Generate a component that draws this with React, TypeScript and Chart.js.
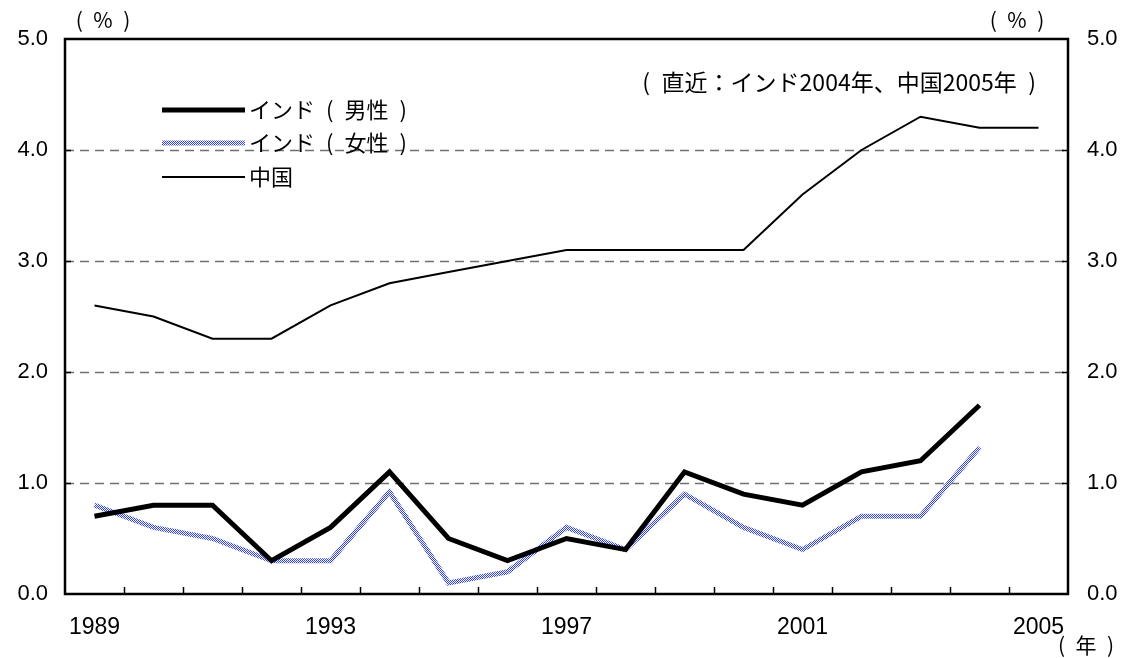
import React, { useEffect, useRef } from 'react';
import { Chart, registerables } from 'chart.js';
Chart.register(...registerables);

const years = ['1989', '1990', '1991', '1992', '1993', '1994', '1995', '1996', '1997', '1998', '1999', '2000', '2001', '2002', '2003', '2004', '2005'];
const indiaMale = [0.7, 0.8, 0.8, 0.3, 0.6, 1.1, 0.5, 0.3, 0.5, 0.4, 1.1, 0.9, 0.8, 1.1, 1.2, 1.7, null];
const indiaFemale = [0.8, 0.6, 0.5, 0.3, 0.3, 0.92, 0.1, 0.2, 0.6, 0.4, 0.9, 0.6, 0.4, 0.7, 0.7, 1.32, null];
const china = [2.6, 2.5, 2.3, 2.3, 2.6, 2.8, 2.9, 3.0, 3.1, 3.1, 3.1, 3.1, 3.6, 4.0, 4.3, 4.2, 4.2];
const seriesNames = ['インド\u2002(\u2002男性\u2002)', 'インド\u2002(\u2002女性\u2002)', '中国'];
const gridValues = [1, 2, 3, 4];
const yMin = 0;
const yMax = 5;
const xLabelEvery = 4;
const unitLabel = '(\u2002%\u2002)';
const yearLabel = '(\u2002年\u2002)';
const noteLabel = '(\u2002直近：インド2004年、中国2005年\u2002)';

const CJK = '"Noto Sans CJK JP", "Noto Sans", sans-serif';
const NUM = '"Liberation Sans", Arial, sans-serif';

function makePattern(): CanvasPattern | string {
  const c = document.createElement('canvas');
  c.width = 2;
  c.height = 2;
  const g = c.getContext('2d');
  if (!g) return '#8890f0';
  g.fillStyle = '#ffffff';
  g.fillRect(0, 0, 2, 2);
  g.fillStyle = '#3040ff';
  g.fillRect(0, 0, 1, 1);
  g.fillRect(1, 1, 1, 1);
  return g.createPattern(c, 'repeat') || '#8890f0';
}

export default function App() {
  const ref = useRef<HTMLCanvasElement | null>(null);
  useEffect(() => {
    document.body.style.margin = '0';
    const canvas = ref.current;
    if (!canvas) return;
    const pattern = makePattern();
    const styles = [
      { color: '#000000', width: 5 },
      { color: pattern, width: 5 },
      { color: '#000000', width: 2 },
    ];

    const decor = {
      id: 'decor',
      beforeDatasetsDraw(chart: any) {
        const ctx = chart.ctx;
        const a = chart.chartArea;
        const y = chart.scales.y;
        ctx.save();
        ctx.strokeStyle = '#707070';
        ctx.lineWidth = 1.5;
        ctx.setLineDash([9, 6]);
        gridValues.forEach((v) => {
          const py = Math.round(y.getPixelForValue(v)) + 0.5;
          ctx.beginPath();
          ctx.moveTo(a.left, py);
          ctx.lineTo(a.right, py);
          ctx.stroke();
        });
        ctx.restore();
      },
      afterDraw(chart: any) {
        const ctx = chart.ctx;
        const a = chart.chartArea;
        const x = chart.scales.x;
        const y = chart.scales.y;
        ctx.save();
        // ticks inward
        ctx.strokeStyle = '#000';
        ctx.lineWidth = 1.5;
        for (let i = 1; i < years.length; i++) {
          const px = Math.round((x.getPixelForValue(i - 1) + x.getPixelForValue(i)) / 2) + 0.5;
          ctx.beginPath();
          ctx.moveTo(px, a.bottom);
          ctx.lineTo(px, a.bottom - 7);
          ctx.stroke();
        }
        gridValues.forEach((v) => {
          const py = Math.round(y.getPixelForValue(v)) + 0.5;
          ctx.beginPath();
          ctx.moveTo(a.left, py);
          ctx.lineTo(a.left + 6, py);
          ctx.moveTo(a.right - 6, py);
          ctx.lineTo(a.right, py);
          ctx.stroke();
        });
        // frame
        ctx.lineWidth = 2.5;
        ctx.strokeRect(a.left, a.top, a.right - a.left, a.bottom - a.top);
        // legend
        const rows = [110, 143, 177];
        seriesNames.forEach((name, i) => {
          ctx.strokeStyle = styles[i].color as any;
          ctx.lineWidth = styles[i].width;
          ctx.beginPath();
          ctx.moveTo(162, rows[i]);
          ctx.lineTo(245, rows[i]);
          ctx.stroke();
          ctx.fillStyle = '#000';
          ctx.font = '22px ' + CJK;
          ctx.textAlign = 'left';
          ctx.textBaseline = 'middle';
          ctx.fillText(name, 249, rows[i]);
        });
        // annotations
        ctx.fillStyle = '#000';
        ctx.font = '21px ' + CJK;
        ctx.textAlign = 'center';
        ctx.textBaseline = 'middle';
        ctx.fillText(unitLabel, 103, 20);
        ctx.fillText(unitLabel, 1017, 20);
        ctx.fillText(yearLabel, 1086, 645);
        ctx.font = '23px ' + CJK;
        ctx.textAlign = 'right';
        ctx.fillText(noteLabel, 1036, 82);
        ctx.restore();
      },
    };

    const yTickOpts = (pad: number) => ({
      stepSize: 1,
      padding: pad,
      color: '#000',
      font: { family: NUM, size: 22 },
      callback: (v: any) => Number(v).toFixed(1),
    });

    const chart = new Chart(canvas, {
      type: 'line',
      data: {
        labels: years,
        datasets: [
          { label: seriesNames[0], data: indiaMale, borderColor: styles[0].color as any, borderWidth: 5, pointRadius: 0, tension: 0, yAxisID: 'y' },
          { label: seriesNames[1], data: indiaFemale, borderColor: styles[1].color as any, borderWidth: 5, pointRadius: 0, tension: 0, yAxisID: 'y' },
          { label: seriesNames[2], data: china, borderColor: styles[2].color as any, borderWidth: 2, pointRadius: 0, tension: 0, yAxisID: 'y' },
        ],
      },
      options: {
        animation: false,
        responsive: false,
        maintainAspectRatio: false,
        layout: { padding: { top: 39, left: 0, right: 0, bottom: 0 } },
        plugins: { legend: { display: false }, tooltip: { enabled: false } },
        scales: {
          x: {
            type: 'category',
            offset: true,
            grid: { display: false, offset: true, drawTicks: false },
            border: { display: false },
            ticks: {
              autoSkip: false,
              maxRotation: 0,
              padding: 20,
              color: '#000',
              font: { family: NUM, size: 23 },
              callback: (_v: any, i: number) => (i % xLabelEvery === 0 ? years[i] : ''),
            },
            afterFit: (s: any) => { s.height = 64; },
          },
          y: {
            position: 'left',
            min: yMin,
            max: yMax,
            grid: { display: false, drawTicks: false },
            border: { display: false },
            ticks: yTickOpts(17),
            afterFit: (s: any) => { s.width = 65; },
          },
          y2: {
            position: 'right',
            min: yMin,
            max: yMax,
            grid: { display: false, drawTicks: false },
            border: { display: false },
            ticks: yTickOpts(19),
            afterFit: (s: any) => { s.width = 61; },
          },
        },
      },
      plugins: [decor],
    } as any);
    return () => chart.destroy();
  }, []);

  return (
    <div style={{ position: 'absolute', left: 0, top: 0, width: 1129, height: 658, background: '#fff' }}>
      <canvas ref={ref} width={1129} height={658} style={{ width: 1129, height: 658, display: 'block' }} />
    </div>
  );
}
